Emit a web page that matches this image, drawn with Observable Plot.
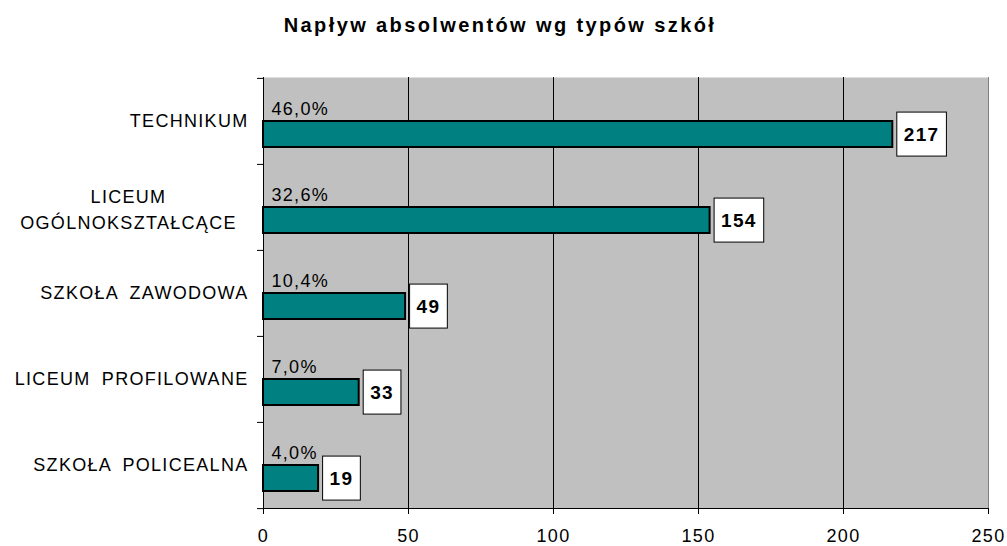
<!DOCTYPE html>
<html>
<head>
<meta charset="utf-8">
<script src="https://cdn.jsdelivr.net/npm/d3@7"></script>
<script src="https://cdn.jsdelivr.net/npm/@observablehq/plot@0.6"></script>
<style>
  body { margin: 0; background: #fff; font-family: "Liberation Sans", Arial, sans-serif; }
  #title { height: 50px; line-height: 50px; text-align: center; font-weight: bold; font-size: 20px; letter-spacing: 2.4px; color: #000; width: 1000px; }
  svg text { letter-spacing: 1.3px; word-spacing: 5px; }
</style>
</head>
<body>
<div id="title">Napływ absolwentów wg typów szkół</div>
<div id="chart"></div>
<script>
const categories = ["TECHNIKUM", "LICEUM\nOGÓLNOKSZTAŁCĄCE", "SZKOŁA ZAWODOWA", "LICEUM PROFILOWANE", "SZKOŁA POLICEALNA"];
const values = [217, 154, 49, 33, 19];
const percents = ["46,0%", "32,6%", "10,4%", "7,0%", "4,0%"];
const xTicks = [0, 50, 100, 150, 200, 250];
const gridValues = [50, 100, 150, 200];

const data = categories.map((c, i) => ({category: c, value: values[i], pct: percents[i], multi: c.includes("\n")}));

const height = 496, marginTop = 27, marginBottom = 38;
const band = (height - marginTop - marginBottom) / categories.length;

const chart = Plot.plot({
  width: 1007,
  height,
  marginLeft: 263,
  marginRight: 19,
  marginTop,
  marginBottom,
  style: {fontFamily: "'Liberation Sans', Arial, sans-serif", fontSize: "18px", color: "#000", background: "#fff"},
  x: {domain: [0, 250], axis: null, label: null},
  y: {domain: categories, padding: 0, axis: null, label: null},
  marks: [
    Plot.frame({fill: "#c0c0c0", stroke: null}),
    Plot.ruleX(gridValues, {stroke: "#000", strokeWidth: 1}),
    Plot.ruleX([250], {stroke: "#808080", strokeWidth: 1}),
    Plot.ruleX([0], {stroke: "#000", strokeWidth: 1}),
    Plot.frame({anchor: "bottom", stroke: "#000", strokeWidth: 1}),
    Plot.axisX({ticks: xTicks, tickSize: 6, tickPadding: 15, fontSize: 18, label: null, tickFormat: d => String(d)}),
    Plot.axisY({ticks: categories, tickSize: 6, text: null, label: null, dy: -band / 2}),
    Plot.axisY({ticks: [categories[categories.length - 1]], tickSize: 6, text: null, label: null, dy: band / 2}),
    Plot.barX(data, {x: "value", y: "category", fill: "#008080", stroke: "#000", strokeWidth: 2, insetTop: 43, insetBottom: 17}),
    Plot.text(data, {x: 0, y: "category", text: "pct", textAnchor: "start", dx: 8, dy: -12, fontSize: 18, fill: "#000"}),
    Plot.text(data, {x: "value", y: "category", text: d => String(d.value), textAnchor: "start", dx: 11, dy: 13, fontSize: 19, fontWeight: "bold", fill: "#000", className: "vlabel"}),
    Plot.text(data.filter(d => !d.multi), {y: "category", text: "category", frameAnchor: "left", textAnchor: "end", dx: -15, fontSize: 18, fill: "#000"}),
    Plot.text(data.filter(d => d.multi), {y: "category", text: "category", frameAnchor: "left", textAnchor: "middle", dx: -135, fontSize: 18, lineHeight: 1.45, fill: "#000"})
  ]
});

document.getElementById("chart").appendChild(chart);

// white boxes behind value labels
document.querySelectorAll("g.vlabel text").forEach(t => {
  const b = t.getBBox();
  const r = document.createElementNS("http://www.w3.org/2000/svg", "rect");
  const cy = b.y + b.height / 2;
  r.setAttribute("x", b.x - 7);
  r.setAttribute("y", cy - 22);
  r.setAttribute("width", b.width + 14);
  r.setAttribute("height", 44);
  r.setAttribute("fill", "#fff");
  r.setAttribute("stroke", "#000");
  r.setAttribute("stroke-width", 1);
  const tr = t.getAttribute("transform");
  if (tr) r.setAttribute("transform", tr);
  t.parentNode.insertBefore(r, t);
});
</script>
</body>
</html>
